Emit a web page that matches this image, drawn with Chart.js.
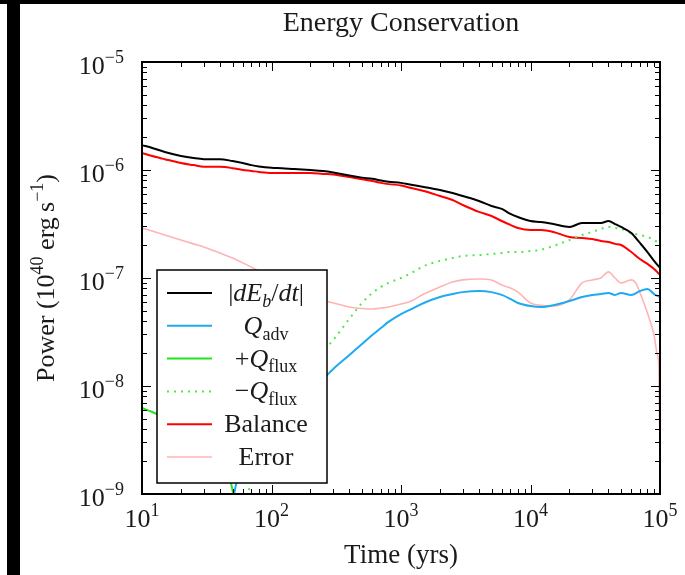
<!DOCTYPE html>
<html>
<head>
<meta charset="utf-8">
<title>Energy Conservation</title>
<script src="https://cdn.jsdelivr.net/npm/chart.js@4"></script>
<style>
  html, body { margin: 0; padding: 0; background: #fff; }
  #wrap { width: 685px; height: 575px; position: relative; }
</style>
</head>
<body>
<div id="wrap"><canvas id="energy" width="685" height="575"></canvas></div>
<script>
// time grid in years (log axis)
const times = [10, 12, 15, 20, 25, 30, 40, 45, 50, 53, 60, 62, 70, 80,
  100, 120, 150, 200, 250, 300, 400, 500, 600, 700, 800,
  1000, 1200, 1500, 2000, 2500, 3000, 4000, 5000, 6000, 7000, 8000,
  10000, 12000, 15000, 20000, 25000, 30000, 35000, 40000, 45000, 50000,
  60000, 65000, 70000, 80000, 90000, 95000, 98000, 100000];

// power in 10^40 erg/s, null where a curve is not drawn
const dEdt = [1.70e-6, 1.60e-6, 1.47e-6, 1.35e-6, 1.29e-6, 1.26e-6, 1.26e-6, null, 1.21e-6, null, 1.16e-6, null, 1.11e-6, 1.08e-6,
  1.05e-6, 1.04e-6, 1.02e-6, 1.0e-6, 9.8e-7, 9.5e-7, 8.9e-7, 8.5e-7, 8.3e-7, 8.0e-7, 7.8e-7,
  7.6e-7, 7.3e-7, 6.97e-7, 6.53e-7, 6.12e-7, 5.74e-7, 5.16e-7, 4.64e-7, 4.36e-7, 3.92e-7, 3.67e-7,
  3.37e-7, 3.30e-7, 3.16e-7, 2.97e-7, 3.23e-7, 3.23e-7, 3.23e-7, 3.37e-7, 3.16e-7, 2.97e-7,
  2.61e-7, null, 2.11e-7, 1.74e-7, 1.44e-7, null, null, 1.24e-7];

const qAdv = [null, null, null, null, null, null, null, null, 8e-10, 1.2e-9, 1.67e-9, null, 2.3e-9, 2.96e-9,
  4.36e-9, 5.6e-9, 7.4e-9, 9.6e-9, 1.16e-8, 1.44e-8, 1.94e-8, 2.45e-8, 2.96e-8, 3.44e-8, 3.92e-8,
  4.64e-8, 5.16e-8, 5.87e-8, 6.67e-8, 7.1e-8, 7.4e-8, 7.58e-8, 7.4e-8, 6.97e-8, 6.4e-8, 5.87e-8,
  5.5e-8, 5.39e-8, 5.6e-8, 6.12e-8, 6.67e-8, 6.97e-8, 7.1e-8, 7.26e-8, 6.97e-8, 7.26e-8,
  6.97e-8, null, 7.58e-8, 7.9e-8, 7.1e-8, null, null, 6.67e-8];

const qFluxPos = [6.25e-9, 5.74e-9, 5.06e-9, 4.36e-9, 3.75e-9, 3.16e-9, 2.3e-9, 1.67e-9, 1.09e-9, 6e-10, null, null, null, null,
  null, null, null, null, null, null, null, null, null, null, null,
  null, null, null, null, null, null, null, null, null, null, null,
  null, null, null, null, null, null, null, null, null, null,
  null, null, null, null, null, null, null, null];

const qFluxNeg = [null, null, null, null, null, null, null, null, null, null, null, 7e-10, 1.35e-9, 2.07e-9,
  3.16e-9, 4.36e-9, 6.67e-9, 1.26e-8, 2.07e-8, 2.67e-8, 4.2e-8, 5.87e-8, 7.26e-8, 8.26e-8, 9.0e-8,
  1.0e-7, 1.11e-7, 1.29e-7, 1.44e-7, 1.53e-7, 1.60e-7, 1.63e-7, 1.67e-7, 1.70e-7, 1.74e-7, 1.74e-7,
  1.78e-7, 1.82e-7, 1.98e-7, 2.25e-7, 2.5e-7, 2.67e-7, 2.85e-7, 2.97e-7, 2.9e-7, 2.85e-7,
  2.61e-7, null, 2.5e-7, 2.40e-7, 2.25e-7, null, null, 2.07e-7];

const balance = [1.44e-6, 1.35e-6, 1.26e-6, 1.16e-6, 1.11e-6, 1.07e-6, 1.07e-6, null, 1.04e-6, null, 1.0e-6, null, 9.8e-7, 9.6e-7,
  9.4e-7, 9.4e-7, 9.4e-7, 9.4e-7, 9.2e-7, 9.1e-7, 8.6e-7, 8.2e-7, 7.9e-7, 7.6e-7, 7.4e-7,
  7.2e-7, 6.8e-7, 6.4e-7, 5.74e-7, 5.27e-7, 4.74e-7, 4.09e-7, 3.75e-7, 3.37e-7, 3.10e-7, 2.90e-7,
  2.78e-7, 2.78e-7, 2.67e-7, 2.40e-7, 2.35e-7, 2.30e-7, 2.20e-7, 2.15e-7, 2.07e-7, 2.02e-7,
  1.74e-7, null, 1.50e-7, 1.35e-7, 1.21e-7, null, null, 1.07e-7];

const error = [2.90e-7, 2.72e-7, 2.50e-7, 2.25e-7, 2.07e-7, 1.94e-7, 1.70e-7, null, 1.53e-7, null, 1.38e-7, null, 1.26e-7, 1.16e-7,
  1.02e-7, 9.0e-8, 7.75e-8, 6.8e-8, 6.25e-8, 5.87e-8, 5.39e-8, 5.22e-8, 5.16e-8, 5.27e-8, 5.39e-8,
  5.74e-8, 6.12e-8, 7.1e-8, 8.26e-8, 9.2e-8, 9.6e-8, 9.8e-8, 9.6e-8, 8.6e-8, 8.07e-8, 7.4e-8,
  5.87e-8, 5.6e-8, 5.5e-8, 6.3e-8, 9.0e-8, 9.6e-8, 1.0e-7, 1.14e-7, 1.0e-7, 9.0e-8,
  9.6e-8, 9.0e-8, 7.3e-8, 4.74e-8, 2.96e-8, 2.0e-8, 1.5e-8, 1.67e-9];

const xDecades = [1, 2, 3, 4, 5];
const yDecades = [-9, -8, -7, -6, -5];

const FONT = "'Liberation Serif', 'DejaVu Serif', serif";
const INK = '#1a1a1a';

const series = [
  { label: [{ t: '|' }, { t: 'dE', it: true }, { t: 'b', it: true, sub: true }, { t: '/' }, { t: 'dt', it: true }, { t: '|' }],
    data: dEdt, color: '#000000', width: 2 },
  { label: [{ t: 'Q', it: true }, { t: 'adv', sub: true }],
    data: qAdv, color: '#1eaaf0', width: 2 },
  { label: [{ t: '+' }, { t: 'Q', it: true }, { t: 'flux', sub: true }],
    data: qFluxPos, color: '#1fe61f', width: 2 },
  { label: [{ t: '\u2212' }, { t: 'Q', it: true }, { t: 'flux', sub: true }],
    data: qFluxNeg, color: '#4ee84e', width: 2, dash: [2, 5] },
  { label: [{ t: 'Balance' }],
    data: balance, color: '#ff0000', width: 2 },
  { label: [{ t: 'Error' }],
    data: error, color: '#ffb4b4', width: 1.6 }
];

function partFont(p, size) {
  const s = p.sub || p.sup ? Math.round(size * 0.7) : size;
  return (p.it ? 'italic ' : '') + s + 'px ' + FONT;
}

function richWidth(ctx, parts, size) {
  let w = 0;
  parts.forEach(p => { ctx.font = partFont(p, size); w += ctx.measureText(p.t).width; });
  return w;
}

// draws a run of text pieces with sub/superscripts
function drawRich(ctx, parts, x, y, size, align) {
  const w = richWidth(ctx, parts, size);
  let cx = align === 'center' ? x - w / 2 : align === 'right' ? x - w : x;
  ctx.textAlign = 'left';
  ctx.textBaseline = 'alphabetic';
  parts.forEach(p => {
    ctx.font = partFont(p, size);
    let dy = 0;
    if (p.sub) dy = size * 0.22;
    if (p.sup) dy = -size * 0.42;
    ctx.fillText(p.t, cx, y + dy);
    cx += ctx.measureText(p.t).width;
  });
}

const decor = {
  id: 'decor',
  beforeDraw(chart) {
    const ctx = chart.ctx;
    ctx.save();
    ctx.fillStyle = '#fff';
    ctx.fillRect(0, 0, chart.width, chart.height);
    ctx.fillStyle = '#000';
    ctx.fillRect(0, 0, chart.width, 4);
    ctx.fillRect(7, 0, 13, chart.height);
    ctx.restore();
  },
  afterDatasetsDraw(chart) {
    const ctx = chart.ctx;
    const a = chart.chartArea;
    const xs = chart.scales.x, ys = chart.scales.y;
    ctx.save();
    ctx.strokeStyle = '#000';
    ctx.fillStyle = '#000';

    // inward ticks on all four sides
    ctx.lineWidth = 1;
    ctx.beginPath();
    xDecades.forEach((d, i) => {
      const px = Math.round(xs.getPixelForValue(Math.pow(10, d))) + 0.5;
      ctx.moveTo(px, a.bottom); ctx.lineTo(px, a.bottom - 9);
      ctx.moveTo(px, a.top); ctx.lineTo(px, a.top + 9);
      if (i < xDecades.length - 1) {
        for (let m = 2; m <= 9; m++) {
          const q = Math.round(xs.getPixelForValue(m * Math.pow(10, d))) + 0.5;
          ctx.moveTo(q, a.bottom); ctx.lineTo(q, a.bottom - 5);
          ctx.moveTo(q, a.top); ctx.lineTo(q, a.top + 5);
        }
      }
    });
    yDecades.forEach((d, i) => {
      const py = Math.round(ys.getPixelForValue(Math.pow(10, d))) + 0.5;
      ctx.moveTo(a.left, py); ctx.lineTo(a.left + 9, py);
      ctx.moveTo(a.right, py); ctx.lineTo(a.right - 9, py);
      if (i < yDecades.length - 1) {
        for (let m = 2; m <= 9; m++) {
          const q = Math.round(ys.getPixelForValue(m * Math.pow(10, d))) + 0.5;
          ctx.moveTo(a.left, q); ctx.lineTo(a.left + 5, q);
          ctx.moveTo(a.right, q); ctx.lineTo(a.right - 5, q);
        }
      }
    });
    ctx.stroke();

    // legend box
    const lx = 157, ly = 270, lw = 170, lh = 213;
    ctx.fillStyle = '#fff';
    ctx.fillRect(lx, ly, lw, lh);
    ctx.lineWidth = 1.5;
    ctx.strokeRect(lx, ly, lw, lh);
    series.forEach((s, i) => {
      const ry = 293 + i * 32.8;
      ctx.save();
      ctx.strokeStyle = s.color;
      ctx.lineWidth = s.width;
      if (s.dash) ctx.setLineDash(s.dash);
      ctx.beginPath();
      ctx.moveTo(167, ry); ctx.lineTo(212, ry);
      ctx.stroke();
      ctx.restore();
      ctx.fillStyle = INK;
      drawRich(ctx, s.label, 266, ry + 8, 26, 'center');
    });

    // frame
    ctx.lineWidth = 2;
    ctx.strokeStyle = '#000';
    ctx.strokeRect(a.left, a.top, a.right - a.left, a.bottom - a.top);

    // tick labels
    ctx.fillStyle = INK;
    xDecades.forEach(d => {
      const px = xs.getPixelForValue(Math.pow(10, d));
      drawRich(ctx, [{ t: '10' }, { t: String(d), sup: true }], px, a.bottom + 33, 26, 'center');
    });
    yDecades.forEach(d => {
      const py = ys.getPixelForValue(Math.pow(10, d));
      drawRich(ctx, [{ t: '10' }, { t: '\u2212' + Math.abs(d), sup: true }], 124, py + 12, 26, 'right');
    });

    // titles
    drawRich(ctx, [{ t: 'Energy Conservation' }], (a.left + a.right) / 2, 31, 28, 'center');
    drawRich(ctx, [{ t: 'Time (yrs)' }], (a.left + a.right) / 2, 563, 27, 'center');
    ctx.save();
    ctx.translate(54, (a.top + a.bottom) / 2);
    ctx.rotate(-Math.PI / 2);
    drawRich(ctx, [{ t: 'Power (10' }, { t: '40', sup: true }, { t: ' erg\u2009s' }, { t: '\u22121', sup: true }, { t: ')' }], 0, 0, 26, 'center');
    ctx.restore();
    ctx.restore();
  }
};

new Chart(document.getElementById('energy'), {
  type: 'line',
  data: {
    datasets: series.map(s => ({
      label: s.label.map(p => p.t).join(''),
      data: times.map((t, i) => ({ x: t, y: s.data[i] })),
      borderColor: s.color,
      borderWidth: s.width,
      borderDash: s.dash || [],
      pointRadius: 0,
      fill: false,
      spanGaps: true,
      cubicInterpolationMode: 'monotone',
      clip: 0
    }))
  },
  options: {
    responsive: false,
    animation: false,
    devicePixelRatio: 1,
    layout: { padding: { left: 142, right: 25, top: 62, bottom: 81 } },
    plugins: {
      legend: { display: false },
      title: { display: false },
      tooltip: { enabled: false }
    },
    scales: {
      x: { type: 'logarithmic', min: 10, max: 100000, display: false },
      y: { type: 'logarithmic', min: 1e-9, max: 1e-5, display: false }
    }
  },
  plugins: [decor]
});
</script>
</body>
</html>
